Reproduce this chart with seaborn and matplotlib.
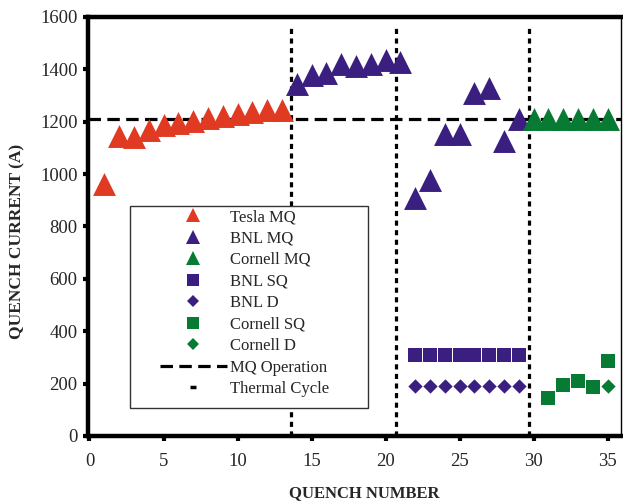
import numpy as np
import pandas as pd
import matplotlib
matplotlib.use("Agg")
import matplotlib.pyplot as plt
import seaborn as sns
from matplotlib.lines import Line2D
from matplotlib.patches import Rectangle

# ---- data ----
tesla_mq_x = list(range(1, 14))
tesla_mq_y = [962, 1147, 1143, 1168, 1188, 1195, 1203, 1213, 1221, 1229, 1236, 1246, 1246]

bnl_mq_x = list(range(14, 30))
bnl_mq_y = [1344, 1378, 1386, 1419, 1411, 1419, 1437, 1427,
            910, 976, 1152, 1152, 1310, 1328, 1127, 1211]

cornell_mq_x = list(range(30, 36))
cornell_mq_y = [1212, 1210, 1210, 1212, 1210, 1210]

bnl_sq_x = list(range(22, 30))
bnl_sq_y = [311, 311, 311, 311, 311, 311, 311, 311]

bnl_d_x = list(range(22, 30))
bnl_d_y = [190, 190, 190, 190, 190, 190, 190, 190]

cornell_sq_x = [31, 32, 33, 34, 35]
cornell_sq_y = [146, 194, 210, 187, 288]

cornell_d_x = [35]
cornell_d_y = [190]

mq_operation = 1210
thermal_cycles = [13.6, 20.7, 29.7]
thermal_top = 1560

x_ticks = [0, 5, 10, 15, 20, 25, 30, 35]
y_ticks = [0, 200, 400, 600, 800, 1000, 1200, 1400, 1600]

RED = "#E03A22"
PURPLE = "#3B1F80"
GREEN = "#077A33"

sns.set_style("ticks")
plt.rcParams["font.family"] = ["Liberation Serif", "DejaVu Serif"]

fig = plt.figure(figsize=(6.23, 5.03), dpi=100)
ax = fig.add_axes([88/623, (503-436)/503, (621-88)/623, (436-17)/503])

# reference lines
dash_h = (0, (3.9, 2.0))
dash_v = (0, (1.6, 1.4))
ax.axhline(mq_operation, color="black", lw=2.3, ls=dash_h, zorder=1)
for xc in thermal_cycles:
    ax.plot([xc, xc], [0, thermal_top], color="black", lw=2.3, ls=dash_v, zorder=1)

tri_s = 16.5 ** 2
sq_s = 10.5 ** 2
d_s = 7.3 ** 2
sns.scatterplot(x=tesla_mq_x, y=tesla_mq_y, marker="^", color=RED, s=tri_s, linewidth=0, ax=ax, zorder=3)
sns.scatterplot(x=bnl_mq_x, y=bnl_mq_y, marker="^", color=PURPLE, s=tri_s, linewidth=0, ax=ax, zorder=3)
sns.scatterplot(x=cornell_mq_x, y=cornell_mq_y, marker="^", color=GREEN, s=tri_s, linewidth=0, ax=ax, zorder=3)
sns.scatterplot(x=bnl_sq_x, y=bnl_sq_y, marker="s", color=PURPLE, s=sq_s, linewidth=0, ax=ax, zorder=3)
sns.scatterplot(x=bnl_d_x, y=bnl_d_y, marker="D", color=PURPLE, s=d_s, linewidth=0, ax=ax, zorder=3)
sns.scatterplot(x=cornell_sq_x, y=cornell_sq_y, marker="s", color=GREEN, s=sq_s, linewidth=0, ax=ax, zorder=3)
sns.scatterplot(x=cornell_d_x, y=cornell_d_y, marker="D", color=GREEN, s=d_s, linewidth=0, ax=ax, zorder=3)

ax.set_xlim(-0.1, 35.9)
ax.set_ylim(0, 1600)
ax.set_xticks(x_ticks)
ax.set_yticks(y_ticks)
ax.tick_params(axis="both", direction="out", length=3.5, width=3, labelsize=13.5, color="black")
ax.tick_params(axis="y", pad=4)
ax.tick_params(axis="x", pad=8.5)

for side in ["left", "bottom", "top"]:
    ax.spines[side].set_linewidth(3.2)
    ax.spines[side].set_color("black")
ax.spines["right"].set_linewidth(1.0)
ax.spines["right"].set_color("black")

ax.set_xlabel("QUENCH NUMBER", fontsize=12, fontweight="bold")
ax.set_ylabel("QUENCH CURRENT (A)", fontsize=12.5, fontweight="bold")
ax.xaxis.set_label_coords(0.518, -0.117)
ax.xaxis.label.set_verticalalignment("top")
ax.yaxis.set_label_coords(-0.118, 0.465)

handles = [
    Line2D([], [], ls="none", marker="^", ms=9.5, mew=0, color=RED),
    Line2D([], [], ls="none", marker="^", ms=9.5, mew=0, color=PURPLE),
    Line2D([], [], ls="none", marker="^", ms=9.5, mew=0, color=GREEN),
    Line2D([], [], ls="none", marker="s", ms=9, mew=0, color=PURPLE),
    Line2D([], [], ls="none", marker="D", ms=6.5, mew=0, color=PURPLE),
    Line2D([], [], ls="none", marker="s", ms=9, mew=0, color=GREEN),
    Line2D([], [], ls="none", marker="D", ms=6.5, mew=0, color=GREEN),
    Line2D([], [], color="black", lw=2.3, ls=dash_h),
    Line2D([], [], ls="none", marker="_", ms=5, mew=2.5, color="black"),
]
labels = ["Tesla MQ", "BNL MQ", "Cornell MQ", "BNL SQ", "BNL D",
          "Cornell SQ", "Cornell D", "MQ Operation", "Thermal Cycle"]
leg = ax.legend(handles, labels, loc="upper left",
                bbox_to_anchor=((160-88)/533, (436-209)/419),
                frameon=False, fontsize=12, borderpad=0, borderaxespad=0,
                handlelength=4.0, handletextpad=0.2, labelspacing=0.33)
leg.set_zorder(5)

box = Rectangle(((130-88)/533, (436-408)/419), (368-130)/533, (408-206)/419,
                transform=ax.transAxes, facecolor="white", edgecolor="#333333",
                lw=1.0, zorder=4)
ax.add_patch(box)

fig.savefig("out.png", dpi=100)
